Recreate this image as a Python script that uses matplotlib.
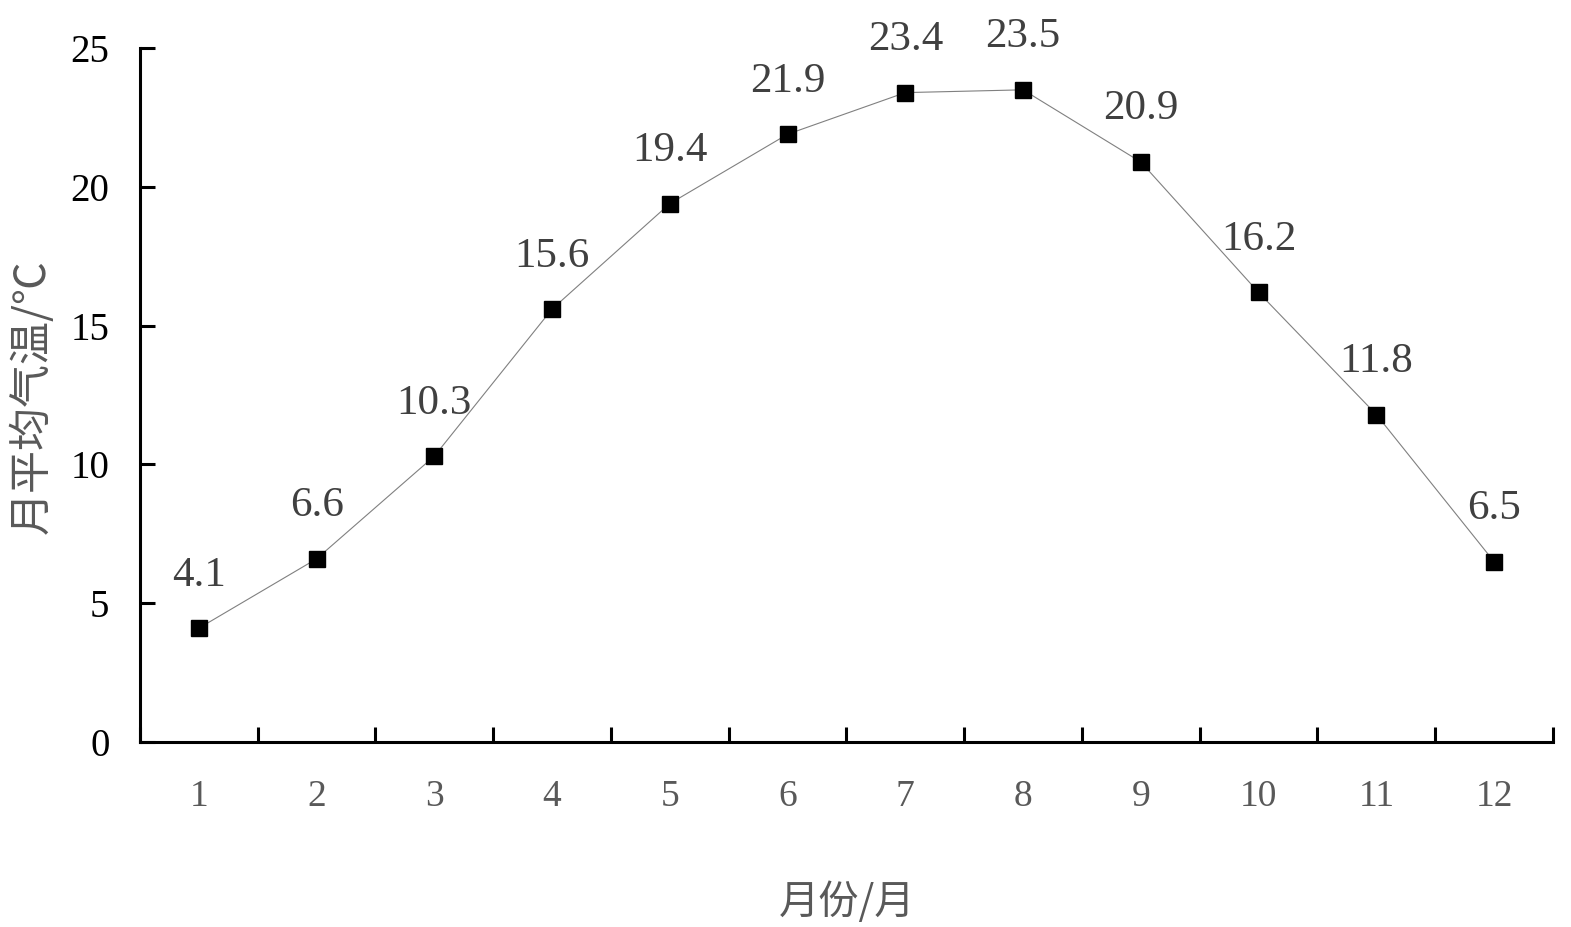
import matplotlib
matplotlib.use("Agg")
import matplotlib.pyplot as plt

months = [1, 2, 3, 4, 5, 6, 7, 8, 9, 10, 11, 12]
temps = [4.1, 6.6, 10.3, 15.6, 19.4, 21.9, 23.4, 23.5, 20.9, 16.2, 11.8, 6.5]
month_labels = [str(m) for m in months]
y_ticks = [0, 5, 10, 15, 20, 25]

serif = ['Liberation Serif', 'DejaVu Serif']
cjk = ['Noto Sans CJK SC', 'DejaVu Sans']

fig = plt.figure(figsize=(15.71, 9.27), dpi=100)
ax = fig.add_axes([0.0891, 0.1996, 0.8994, 0.7484])

ax.plot(months, temps, color='#808080', linewidth=0.8,
        marker='s', markersize=11, markerfacecolor='black', markeredgecolor='black')

for m, t in zip(months, temps):
    ax.annotate(f'{t:.1f}', (m, t), xytext=(0, 38), textcoords='offset points',
                ha='center', va='center', fontsize=31, color='#404040', family=serif)

ax.set_xlim(0.5, 12.5)
ax.set_ylim(0, 25)

# category ticks sit on the boundaries, labels in the middle
ax.set_xticks([m + 0.5 for m in [0] + months])
ax.set_xticklabels([])
ax.set_xticks(months, minor=True)
ax.set_xticklabels(month_labels, minor=True, fontsize=27, color='#595959', family=serif)
ax.tick_params(axis='x', which='major', direction='in', length=11, width=2.2)
ax.tick_params(axis='x', which='minor', length=0, pad=27)

ax.set_yticks(y_ticks)
ax.set_yticklabels([str(v) for v in y_ticks], fontsize=28, color='black', family=serif)
ax.tick_params(axis='y', direction='in', length=11, width=2.2, pad=22)

for side in ['top', 'right']:
    ax.spines[side].set_visible(False)
for side in ['left', 'bottom']:
    ax.spines[side].set_linewidth(2.2)
    ax.spines[side].set_color('black')

fig.text(0.5395, 0.027, '月份/月', ha='center', va='center', fontsize=29,
         color='#595959', family=cjk)
fig.text(0.021, 0.572, '月平均气温/℃', ha='center', va='center', rotation=90,
         fontsize=31, color='#595959', family=cjk)

fig.savefig('out.png', dpi=100)
